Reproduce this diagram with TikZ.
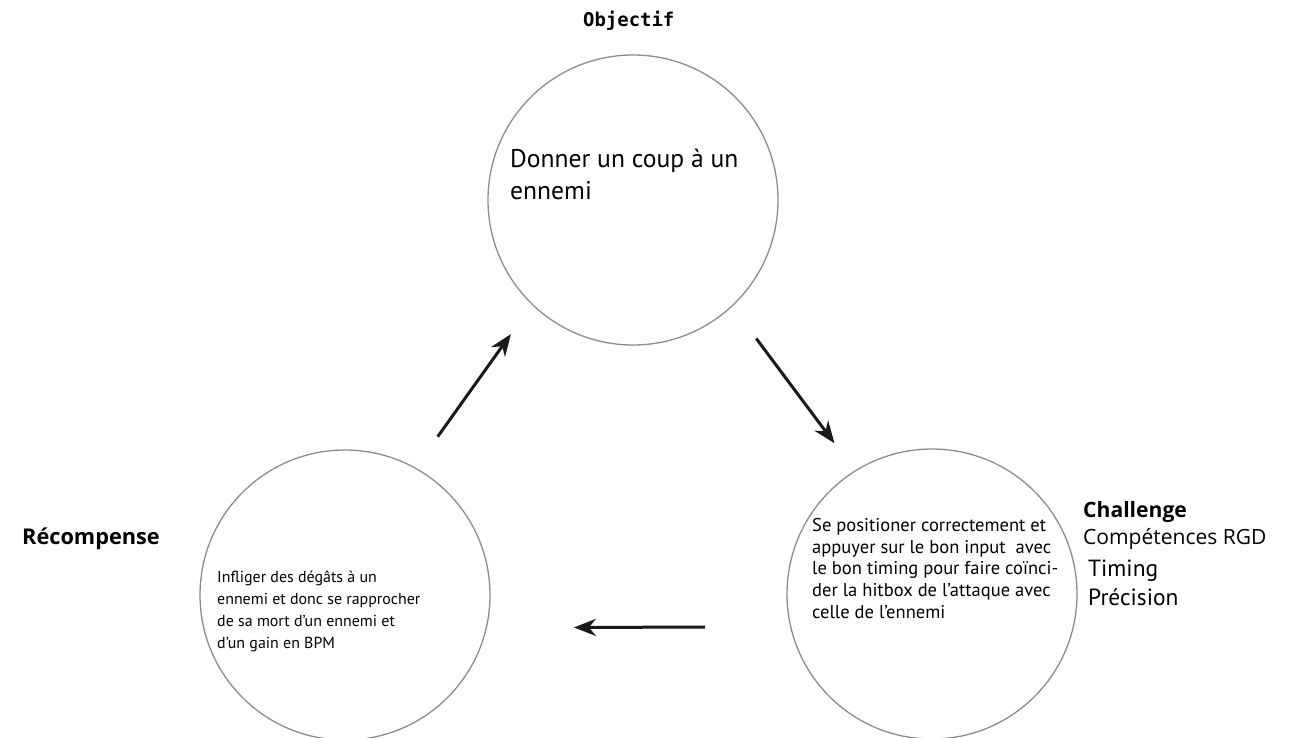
\documentclass[tikz,border=0pt]{standalone}
\usepackage{fontspec}
\setmainfont{PT Sans}
\newfontfamily\opensans{Open Sans}
\newfontfamily\monob{DejaVu Sans Mono}
\usetikzlibrary{arrows.meta}
\begin{document}
\begin{tikzpicture}[x=1bp,y=-1bp,
  ring/.style={circle, draw=black!45, line width=1.3bp, minimum size=290bp, inner sep=0pt},
  arr/.style={line width=3bp, draw=black!90, -{Stealth[length=22bp,width=17bp,inset=7bp]}},
  txt/.style={inner sep=0pt, anchor=base west, align=left},
]
\useasboundingbox (0,0) rectangle (1297,738);
\fill[white] (0,0) rectangle (1297,738);

\node[ring] (obj) at (633,200) {};
\node[ring] (rec) at (345,595) {};
\node[ring] (cha) at (932,594) {};

\draw[arr, shorten <=38bp, shorten >=36bp] (rec.61) -- (obj.226);
\draw[arr, shorten <=40bp, shorten >=34bp] (obj.313) -- (cha.122);
\draw[arr, shorten <=85bp, shorten >=87bp] (cha.193) -- (rec.347);

\node[txt, font=\monob\bfseries\fontsize{19}{22}\selectfont] (tobj) at (583,27) {Objectif};
\node[txt, font=\opensans\bfseries\fontsize{21.8}{24}\selectfont] (trec) at (22,544) {Récompense};
\node[txt, font=\opensans\bfseries\fontsize{21.2}{23}\selectfont] (tcha) at (1083,517) {Challenge};
\node[txt, font=\opensans\fontsize{21.1}{23}\selectfont] (tcomp) at (1083,544) {Compétences RGD};
\node[txt, font=\fontsize{23.5}{26}\selectfont] (ttim) at (1088,576) {Timing};
\node[txt, font=\fontsize{23.5}{26}\selectfont] (tpre) at (1088,605) {Précision};

\node[txt, font=\fontsize{25.7}{32}\selectfont] (dobj) at (510,199) {Donner un coup à un\\ennemi};
\node[txt, font=\fontsize{16}{22}\selectfont] (drec) at (217,648) {Infliger des dégâts à un\\ennemi et donc se rapprocher\\de sa mort d’un ennemi et\\d’un gain en BPM};
\node[txt, font=\fontsize{18.6}{21.7}\selectfont] (dcha) at (812,618) {Se positioner correctement et\\appuyer sur le bon input\ \ avec\\le bon timing pour faire coïnci-\\der la hitbox de l’attaque avec\\celle de l’ennemi};
\end{tikzpicture}
\end{document}
